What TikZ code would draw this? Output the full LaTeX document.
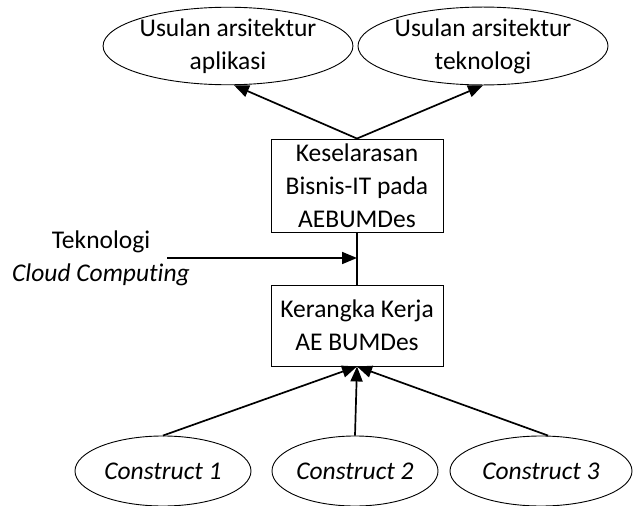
\documentclass[tikz,border=0pt]{standalone}
\usepackage{fontspec}
\setmainfont[Ligatures=NoCommon]{Carlito}
\usetikzlibrary{shapes.geometric,arrows.meta}

\begin{document}
\begin{tikzpicture}[x=1pt,y=-1pt,
  every node/.style={font=\fontsize{25.5}{33}\selectfont, align=center},
  oval/.style={ellipse, draw, line width=0.9pt, inner sep=0pt},
  boxnode/.style={rectangle, draw, line width=0.9pt, inner sep=0pt},
  link/.style={line width=1.7pt, -{Triangle[length=15pt,width=12pt]}},
  plain/.style={line width=1.5pt}
]
\useasboundingbox (0,0) rectangle (635,506);

% proposals at the top
\node[oval, minimum width=244pt, minimum height=74pt] (u1) at (228,46) {Usulan arsitektur\\aplikasi};
\node[oval, minimum width=250pt, minimum height=74pt] (u2) at (483,46) {Usulan arsitektur\\teknologi};

% alignment box and framework box
\node[boxnode, minimum width=172pt, minimum height=93pt] (k) at (357,185.5) {Keselarasan\\Bisnis-IT pada\\AEBUMDes};
\node[boxnode, minimum width=172pt, minimum height=81pt] (f) at (357,325.5) {Kerangka Kerja\\AE BUMDes};

% constructs at the bottom
\node[oval, minimum width=176pt, minimum height=70pt] (c1) at (163,471) {\itshape Construct 1};
\node[oval, minimum width=164pt, minimum height=70pt] (c2) at (355,471) {\itshape Construct 2};
\node[oval, minimum width=182pt, minimum height=70pt] (c3) at (541,471) {\itshape Construct 3};

% technology input
\node (tek) at (101,258) {Teknologi\\\itshape Cloud Computing};
\coordinate (ts) at (167,258);
\coordinate (tj) at (357,258);

% connectors
\draw[link] (k.north) -- ([xshift=6pt]u1.south);
\draw[link] (k.north) -- (u2.south);
\draw[plain] (k.south) -- (f.north);
\draw[link] (ts) -- (tj);
\draw[link] (c1.north) -- (f.south);
\draw[link] (c2.north) -- (f.south);
\draw[link] (c3.north -| 548,0) -- (f.south);
\end{tikzpicture}
\end{document}
